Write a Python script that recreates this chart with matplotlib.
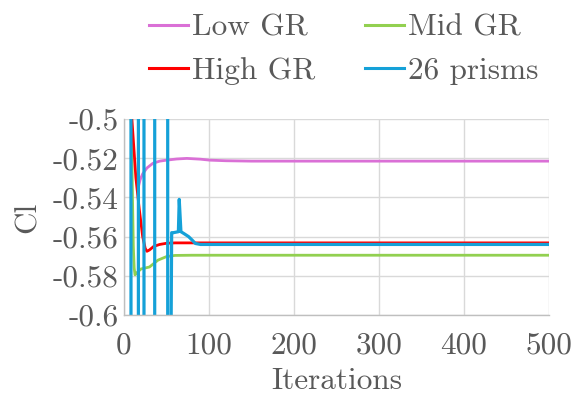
import matplotlib
matplotlib.use("Agg")
import matplotlib.pyplot as plt
from matplotlib.ticker import FuncFormatter

plt.rcParams['font.family'] = 'serif'
plt.rcParams['font.serif'] = ['cmr10', 'DejaVu Serif']
plt.rcParams['axes.unicode_minus'] = False
plt.rcParams['mathtext.fontset'] = 'cm'

# ---- data ----
low_x = [17, 19, 22, 27, 34, 42, 50, 62, 74, 90, 101, 120, 150, 200, 300, 400, 500]
low_y = [-0.5345, -0.531, -0.528, -0.525, -0.5226, -0.5215, -0.521, -0.5204, -0.5201, -0.5205,
         -0.521, -0.5213, -0.5215, -0.5215, -0.5215, -0.5215, -0.5215]

mid_x = [0, 8, 9, 10, 11, 12, 13, 15, 20, 30, 40, 50, 60, 80, 100, 200, 300, 400, 500]
mid_y = [-0.45, -0.49, -0.51, -0.54, -0.565, -0.576, -0.5795, -0.5785, -0.5765, -0.5755, -0.572,
         -0.5702, -0.5696, -0.5695, -0.5695, -0.5695, -0.5695, -0.5695, -0.5695]

high_x = [0, 9, 14, 18, 22, 25, 27, 30, 35, 42, 50, 60, 100, 200, 300, 400, 500]
high_y = [-0.45, -0.498, -0.53, -0.546, -0.56, -0.566, -0.5675, -0.5668, -0.565, -0.564, -0.5634,
          -0.5632, -0.5632, -0.5632, -0.5632, -0.5632, -0.5632]

prism_x = [0, 8.2, 8.3, 16.9, 17.0, 23.5, 23.6, 36.1, 36.2, 51.4, 51.5, 56.1, 58, 64, 65, 67, 70,
           76, 80, 84, 90, 100, 200, 300, 400, 500]
prism_y = [-0.3, -0.3, -0.9, -0.9, -0.3, -0.3, -0.9, -0.9, -0.3, -0.3, -0.9, -0.558, -0.558,
           -0.5575, -0.541, -0.5575, -0.5583, -0.560, -0.5617, -0.5635, -0.564, -0.564, -0.564,
           -0.564, -0.564, -0.564]

labels = ['Low GR', 'Mid GR', 'High GR', '26 prisms']
colors = ['#DA70D6', '#92D050', '#FF0000', '#15A1D8']

xticks = [0, 100, 200, 300, 400, 500]
yticks = [-0.6, -0.58, -0.56, -0.54, -0.52, -0.5]

text_color = '#595959'

fig = plt.figure(figsize=(5.87, 3.96), dpi=100)
ax = fig.add_axes([0.2112, 0.2045, 0.7241, 0.495])

h1, = ax.plot(low_x, low_y, color=colors[0], lw=2.0, label=labels[0])
h2, = ax.plot(mid_x, mid_y, color=colors[1], lw=2.0, label=labels[1])
h3, = ax.plot(high_x, high_y, color=colors[2], lw=2.0, label=labels[2])
h4, = ax.plot(prism_x, prism_y, color=colors[3], lw=2.3, label=labels[3])

ax.set_xlim(0, 500)
ax.set_ylim(-0.6, -0.5)
ax.set_xticks(xticks)
ax.set_yticks(yticks)
ax.yaxis.set_major_formatter(FuncFormatter(lambda v, p: '%g' % round(v, 4)))
ax.xaxis.set_major_formatter(FuncFormatter(lambda v, p: '%d' % v))

ax.grid(True, color='#D9D9D9', lw=1.0)
ax.set_axisbelow(True)
for s in ['top', 'right']:
    ax.spines[s].set_visible(False)
for s in ['left', 'bottom']:
    ax.spines[s].set_color('#BFBFBF')
    ax.spines[s].set_linewidth(1.0)

ax.tick_params(axis='y', length=0, pad=4, labelsize=22.5, colors=text_color)
ax.tick_params(axis='x', length=0, pad=12, labelsize=22.5, colors=text_color)
ax.set_xlabel('Iterations', fontsize=22.5, color=text_color, labelpad=5)
ax.set_ylabel('Cl', fontsize=22.5, color=text_color, labelpad=8)

order = [0, 2, 1, 3]
handles = [h1, h2, h3, h4]
leg = fig.legend([handles[i] for i in order], [labels[i] for i in order], ncol=2, loc='center',
                 bbox_to_anchor=(0.585, 0.875), frameon=False, fontsize=22.5,
                 handlelength=1.27, handletextpad=0.1, columnspacing=1.6,
                 labelspacing=0.5, borderaxespad=0)
for t in leg.get_texts():
    t.set_color(text_color)
for l in leg.get_lines():
    l.set_linewidth(2.2)

fig.savefig('out.png', dpi=100)
